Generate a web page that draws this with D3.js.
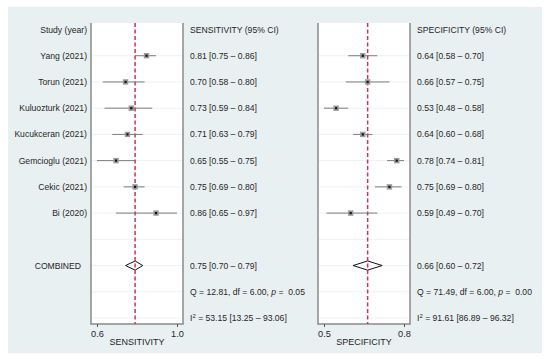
<!DOCTYPE html>
<html>
<head>
<meta charset="utf-8">
<script src="https://cdn.jsdelivr.net/npm/d3@7"></script>
<style>
  body { margin: 0; background: #fff; }
  text { font-family: "Liberation Sans", Arial, sans-serif; fill: #262626; }
</style>
</head>
<body>
<div id="chart"></div>
<script>
// Study labels
const studies = ["Yang (2021)", "Torun (2021)", "Kuluozturk (2021)", "Kucukceran (2021)",
                 "Gemcioglu (2021)", "Cekic (2021)", "Bi (2020)"];

// Sensitivity estimates with 95% CI
const sensEst = [0.81, 0.70, 0.73, 0.71, 0.65, 0.75, 0.86];
const sensLo  = [0.75, 0.58, 0.59, 0.63, 0.55, 0.69, 0.65];
const sensHi  = [0.86, 0.80, 0.84, 0.79, 0.75, 0.80, 0.97];
const sensPooled = [0.75, 0.70, 0.79];
const sensQ = [12.81, 6.00, 0.05];
const sensI2 = [53.15, 13.25, 93.06];

// Specificity estimates with 95% CI
const specEst = [0.64, 0.66, 0.53, 0.64, 0.78, 0.75, 0.59];
const specLo  = [0.58, 0.57, 0.48, 0.60, 0.74, 0.69, 0.49];
const specHi  = [0.70, 0.75, 0.58, 0.68, 0.81, 0.80, 0.70];
const specPooled = [0.66, 0.60, 0.72];
const specQ = [71.49, 6.00, 0.00];
const specI2 = [91.61, 86.89, 96.32];

const W = 550, H = 359;
const f2 = d3.format(".2f");

const svg = d3.select("#chart").append("svg")
    .attr("width", W).attr("height", H);

// background panel
svg.append("rect")
    .attr("x", 8).attr("y", 7).attr("width", 534).attr("height", 346)
    .attr("fill", "#e9f0f2");

// row positions: 0 = header, 1-7 studies, 9 combined, 10 Q, 11 I2
const y = d3.scaleLinear().domain([0, 11]).range([29.5, 318]);
const fs = 8.6;

// study labels on the left
svg.append("text").attr("x", 87).attr("y", y(0)).attr("dy", "0.35em")
    .attr("text-anchor", "end").attr("font-size", fs).text("Study (year)");
svg.selectAll(".lab").data(studies).enter().append("text")
    .attr("x", 87).attr("y", (d, i) => y(i + 1)).attr("dy", "0.35em")
    .attr("text-anchor", "end").attr("font-size", fs).text(d => d);
svg.append("text").attr("x", 81).attr("y", y(9)).attr("dy", "0.35em")
    .attr("text-anchor", "end").attr("font-size", fs).text("COMBINED");

function panel(opt) {
    const left = opt.left, right = opt.right, top = 23, bottom = 324;
    const x = d3.scaleLinear()
        .domain([d3.min(opt.lo), d3.max(opt.hi)])
        .range([left + 6, right - 6]);

    const g = svg.append("g");
    g.append("rect").attr("x", left).attr("y", top)
        .attr("width", right - left).attr("height", bottom - top).attr("fill", "#fff");

    // faint row lines
    g.selectAll(".grid").data(d3.range(1, 12)).enter().append("line")
        .attr("x1", left).attr("x2", right)
        .attr("y1", d => y(d)).attr("y2", d => y(d))
        .attr("stroke", "#eef1f3").attr("stroke-width", 1);

    // frame
    g.append("path")
        .attr("d", `M${left},${top}V${bottom}H${right}V${top}`)
        .attr("fill", "none").attr("stroke", "#8a8a8a").attr("stroke-width", 1.5);

    // axis with end ticks only
    const ax = g.append("g").attr("transform", `translate(0,${bottom})`)
        .call(d3.axisBottom(x).tickValues(x.domain()).tickSize(3).tickSizeOuter(0)
            .tickFormat(d3.format(".1f")));
    ax.select(".domain").remove();
    ax.selectAll(".tick line").attr("stroke", "#555");
    ax.selectAll(".tick text").attr("font-size", fs + 0.6).attr("dy", "0.75em")
        .style("font-family", "Liberation Sans, Arial, sans-serif").attr("fill", "#262626");

    g.append("text").attr("x", (left + right) / 2).attr("y", 345)
        .attr("text-anchor", "middle").attr("font-size", fs + 0.4).text(opt.title);

    // combined diamond
    const yc = y(9), p = opt.pooled;
    g.append("path")
        .attr("d", `M${x(p[1])},${yc}L${x(p[0])},${yc - 4.6}L${x(p[2])},${yc}L${x(p[0])},${yc + 4.6}Z`)
        .attr("fill", "none").attr("stroke", "#111").attr("stroke-width", 1);

    // pooled reference line
    g.append("line")
        .attr("x1", x(opt.pooled[0])).attr("x2", x(opt.pooled[0]))
        .attr("y1", top).attr("y2", bottom)
        .attr("stroke", "#cc3356").attr("stroke-width", 1.5)
        .attr("stroke-dasharray", "4,2.5");

    // CIs
    g.selectAll(".ci").data(opt.est).enter().append("line")
        .attr("x1", (d, i) => x(opt.lo[i])).attr("x2", (d, i) => x(opt.hi[i]))
        .attr("y1", (d, i) => y(i + 1)).attr("y2", (d, i) => y(i + 1))
        .attr("stroke", "#6e6e6e").attr("stroke-width", 0.9);

    // markers
    g.selectAll(".box").data(opt.est).enter().append("rect")
        .attr("x", d => x(d) - 2.7).attr("y", (d, i) => y(i + 1) - 2.7)
        .attr("width", 5.4).attr("height", 5.4).attr("fill", "#9a9a9a");
    g.selectAll(".dot").data(opt.est).enter().append("rect")
        .attr("x", d => x(d) - 1.1).attr("y", (d, i) => y(i + 1) - 1.1)
        .attr("width", 2.2).attr("height", 2.2).attr("fill", "#111");

    // text column
    const tx = right + 7;
    g.append("text").attr("x", tx).attr("y", y(0)).attr("dy", "0.35em")
        .attr("font-size", fs).text(opt.title + " (95% CI)");
    g.selectAll(".val").data(opt.est).enter().append("text")
        .attr("x", tx).attr("y", (d, i) => y(i + 1)).attr("dy", "0.35em")
        .attr("font-size", fs)
        .text((d, i) => `${f2(d)} [${f2(opt.lo[i])} \u2013 ${f2(opt.hi[i])}]`);
    g.append("text").attr("x", tx).attr("y", y(9)).attr("dy", "0.35em")
        .attr("font-size", fs)
        .text(`${f2(p[0])} [${f2(p[1])} \u2013 ${f2(p[2])}]`);

    const q = g.append("text").attr("x", tx).attr("y", y(10)).attr("dy", "0.35em")
        .attr("font-size", fs);
    q.append("tspan").text(`Q = ${f2(opt.q[0])}, df = ${f2(opt.q[1])}, `);
    q.append("tspan").attr("font-style", "italic").text("p");
    q.append("tspan").text(` =\u00a0 ${f2(opt.q[2])}`);

    const i2 = g.append("text").attr("x", tx).attr("y", y(11)).attr("dy", "0.35em")
        .attr("font-size", fs);
    i2.append("tspan").text("I");
    i2.append("tspan").attr("font-size", fs * 0.7).attr("dy", "-0.45em").text("2");
    i2.append("tspan").attr("dy", "0.32em")
        .text(` = ${f2(opt.i2[0])} [${f2(opt.i2[1])} \u2013 ${f2(opt.i2[2])}]`);
}

panel({ left: 91, right: 183, title: "SENSITIVITY", est: sensEst, lo: sensLo, hi: sensHi,
        pooled: sensPooled, q: sensQ, i2: sensI2 });
panel({ left: 318, right: 410, title: "SPECIFICITY", est: specEst, lo: specLo, hi: specHi,
        pooled: specPooled, q: specQ, i2: specI2 });
</script>
</body>
</html>
